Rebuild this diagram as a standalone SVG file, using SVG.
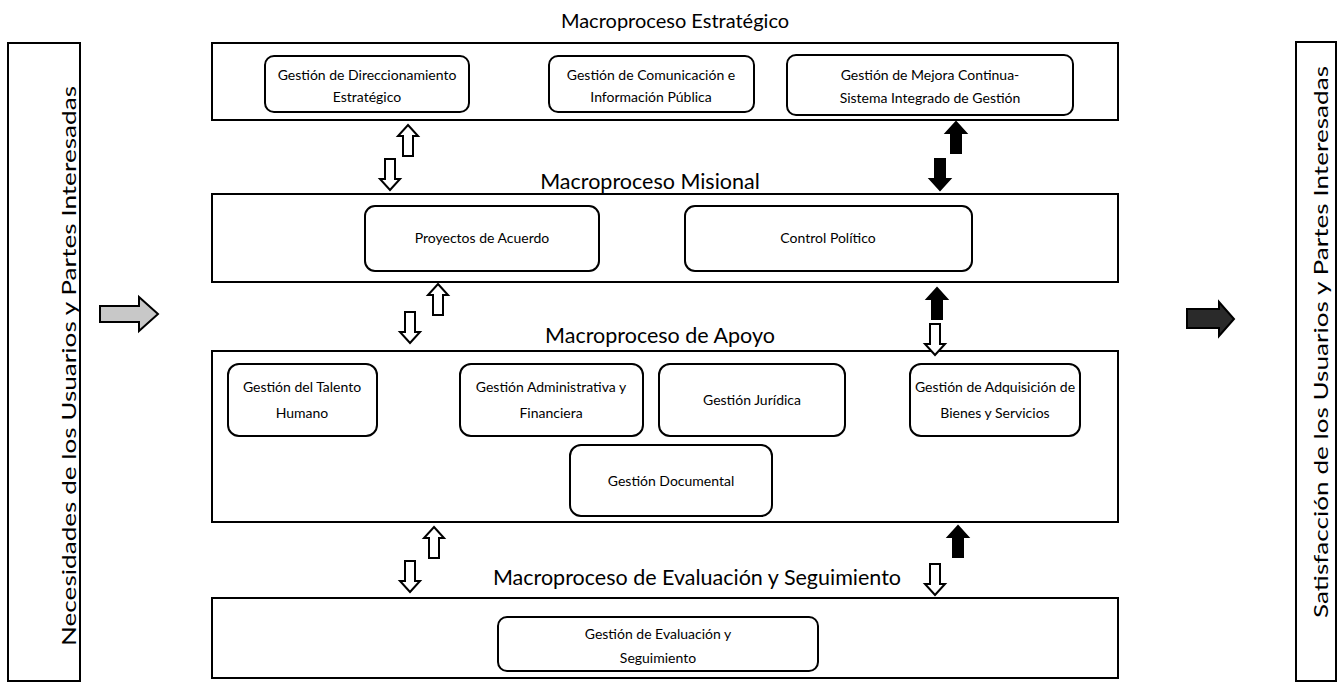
<svg xmlns="http://www.w3.org/2000/svg" xmlns:xlink="http://www.w3.org/1999/xlink" width="1339" height="691" viewBox="0 0 1339 691">
<style>
.frame{fill:#fff;stroke:#000;stroke-width:2}
.node{fill:#fff;stroke:#000;stroke-width:2}
.title{font-family:Lato,"Open Sans",sans-serif;font-size:21.5px;fill:#000;text-anchor:middle}
.lbl{font-family:Lato,"Open Sans",sans-serif;font-size:14px;fill:#000;text-anchor:middle}
.side{font-family:Lato,"Open Sans",sans-serif;font-size:19px;fill:#000;text-anchor:middle}
.hollow{fill:#fff;stroke:#000;stroke-width:2}
.solid{fill:#000;stroke:#000;stroke-width:2}
</style>
<defs>
<path id="up" d="M0,0 L10,11 L5,11 L5,31 L-5,31 L-5,11 L-10,11 Z"/>
<path id="down" d="M0,0 L10,-11 L5,-11 L5,-31 L-5,-31 L-5,-11 L-10,-11 Z"/>
</defs>
<rect width="1339" height="691" fill="#fff"/>

<g id="side-left">
<rect class="frame" x="8" y="43" width="72" height="638"/>
<text class="side" transform="translate(76,366) rotate(-90)" textLength="560" lengthAdjust="spacingAndGlyphs">Necesidades de los Usuarios y Partes Interesadas</text>
</g>
<g id="side-right">
<rect class="frame" x="1296" y="42" width="40" height="639"/>
<text class="side" transform="translate(1328,342) rotate(-90)" textLength="552" lengthAdjust="spacingAndGlyphs">Satisfacción de los Usuarios y Partes Interesadas</text>
</g>

<g id="macro-estrategico">
<text class="title" x="675" y="28" style="font-size:20px">Macroproceso Estratégico</text>
<rect class="frame" x="212" y="43" width="906" height="77"/>
</g>
<g id="n-direccionamiento">
<rect class="node" x="265" y="56" width="204" height="56" rx="9"/>
<text class="lbl" x="367" y="80">Gestión de Direccionamiento</text>
<text class="lbl" x="367" y="102">Estratégico</text>
</g>
<g id="n-comunicacion">
<rect class="node" x="549" y="56" width="205" height="56" rx="9"/>
<text class="lbl" x="651" y="80">Gestión de Comunicación e</text>
<text class="lbl" x="651" y="102">Información Pública</text>
</g>
<g id="n-mejora">
<rect class="node" x="787" y="55" width="286" height="60" rx="9"/>
<text class="lbl" x="930" y="80">Gestión de Mejora Continua-</text>
<text class="lbl" x="930" y="103">Sistema Integrado de Gestión</text>
</g>

<g id="macro-misional">
<text class="title" x="650" y="189">Macroproceso Misional</text>
<rect class="frame" x="212" y="194" width="906" height="88"/>
</g>
<g id="n-proyectos">
<rect class="node" x="365" y="206" width="234" height="65" rx="10"/>
<text class="lbl" x="482" y="243">Proyectos de Acuerdo</text>
</g>
<g id="n-control">
<rect class="node" x="685" y="206" width="287" height="65" rx="10"/>
<text class="lbl" x="828" y="243">Control Político</text>
</g>

<g id="macro-apoyo">
<text class="title" x="660" y="343">Macroproceso de Apoyo</text>
<rect class="frame" x="212" y="351" width="906" height="171"/>
</g>
<g id="n-talento">
<rect class="node" x="228" y="364" width="149" height="72" rx="11"/>
<text class="lbl" x="302" y="392">Gestión del Talento</text>
<text class="lbl" x="302" y="418">Humano</text>
</g>
<g id="n-administrativa">
<rect class="node" x="460" y="364" width="183" height="72" rx="11"/>
<text class="lbl" x="551" y="392">Gestión Administrativa y</text>
<text class="lbl" x="551" y="418">Financiera</text>
</g>
<g id="n-juridica">
<rect class="node" x="659" y="364" width="186" height="72" rx="11"/>
<text class="lbl" x="752" y="405">Gestión Jurídica</text>
</g>
<g id="n-adquisicion">
<rect class="node" x="910" y="364" width="170" height="72" rx="11"/>
<text class="lbl" x="995" y="392">Gestión de Adquisición de</text>
<text class="lbl" x="995" y="418">Bienes y Servicios</text>
</g>
<g id="n-documental">
<rect class="node" x="570" y="445" width="202" height="71" rx="11"/>
<text class="lbl" x="671" y="486">Gestión Documental</text>
</g>

<g id="macro-evaluacion">
<text class="title" x="697" y="585">Macroproceso de Evaluación y Seguimiento</text>
<rect class="frame" x="212" y="598" width="906" height="80"/>
</g>
<g id="n-evaluacion">
<rect class="node" x="498" y="617" width="320" height="54" rx="9"/>
<text class="lbl" x="658" y="639">Gestión de Evaluación y</text>
<text class="lbl" x="658" y="663">Seguimiento</text>
</g>

<g id="connectors">
<path d="M100,306 L139,306 L139,297 L158,314 L139,331 L139,322 L100,322 Z" fill="#c8c8c8" stroke="#000" stroke-width="2"/>
<path d="M1187,309 L1219,309 L1219,302 L1234,319 L1219,336 L1219,328 L1187,328 Z" fill="#2a2a2a" stroke="#000" stroke-width="2"/>

<use href="#up" class="hollow" x="408" y="125"/>
<use href="#down" class="hollow" x="390" y="190"/>
<use href="#up" class="solid" x="956" y="122"/>
<use href="#down" class="solid" x="940" y="190"/>

<use href="#up" class="hollow" x="438" y="284"/>
<use href="#down" class="hollow" x="410" y="343"/>
<use href="#up" class="solid" x="937" y="288"/>
<use href="#down" class="hollow" x="935" y="355"/>

<use href="#up" class="hollow" x="434" y="527"/>
<use href="#down" class="hollow" x="410" y="592"/>
<use href="#up" class="solid" x="958" y="526"/>
<use href="#down" class="hollow" x="935" y="595"/>
</g>
</svg>
